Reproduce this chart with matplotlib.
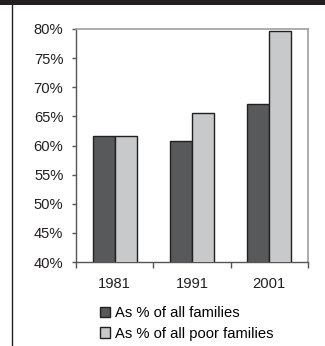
import matplotlib
matplotlib.use("Agg")
import matplotlib.pyplot as plt
from matplotlib.patches import Rectangle
from matplotlib.lines import Line2D
import numpy as np

years = ["1981", "1991", "2001"]
pct_all_families = [61.6, 60.8, 67.1]
pct_poor_families = [61.6, 65.5, 79.7]
series_labels = ["As % of all families", "As % of all poor families"]
y_ticks = [40, 45, 50, 55, 60, 65, 70, 75, 80]

W, H = 325, 346
FS = 10.6
plt.rcParams["font.family"] = ["Liberation Sans", "DejaVu Sans"]
fig = plt.figure(figsize=(W / 100, H / 100), dpi=100)
fig.patch.set_facecolor("white")

# dark header strip and left rule
fig.patches.append(Rectangle((0, 1 - 5 / H), 1, 5 / H, transform=fig.transFigure,
                             facecolor="#231f20", edgecolor="none"))
fig.lines.append(Line2D([11.5 / W, 11.5 / W], [0, 1 - 5 / H], transform=fig.transFigure,
                        color="#231f20", linewidth=1.0))

left, right, top, bottom = 76, 308, 29, 262
ax = fig.add_axes([left / W, 1 - bottom / H, (right - left) / W, (bottom - top) / H])

x = np.arange(len(years))
bw = 0.285
dark = "#58595b"
light = "#c8c9cb"
edge = "#231f20"
ax.bar(x - bw / 2, pct_all_families, width=bw, color=dark, edgecolor=edge, linewidth=1.0,
       label=series_labels[0], zorder=3)
ax.bar(x + bw / 2, pct_poor_families, width=bw, color=light, edgecolor=edge, linewidth=1.0,
       label=series_labels[1], zorder=3)

ax.set_xlim(-0.5, len(years) - 0.5)
ax.set_ylim(40, 80)
ax.set_yticks(y_ticks)
ax.set_yticklabels([f"{v}%" for v in y_ticks], fontsize=FS, color="#231f20")
ax.set_xticks(x)
ax.set_xticklabels(years, fontsize=FS, color="#231f20")
ax.set_xticks(np.arange(-0.5, len(years)), minor=True)
ax.tick_params(axis="x", which="major", length=0, pad=11)
ax.tick_params(axis="x", which="minor", length=4, width=1, color="#555555", direction="out")
ax.tick_params(axis="y", length=3, width=1, color="#555555", direction="out", pad=6)

for side in ("left", "bottom"):
    ax.spines[side].set_color("#555555")
    ax.spines[side].set_linewidth(1.0)
for side in ("top", "right"):
    ax.spines[side].set_color("#a0a0a0")
    ax.spines[side].set_linewidth(1.2)

handles, labels = ax.get_legend_handles_labels()
leg = fig.legend(handles, labels, loc="upper left", bbox_to_anchor=(100 / W, 1 - 306 / H),
                 frameon=False, fontsize=FS, handlelength=0.7, handleheight=0.7,
                 handletextpad=0.3, labelspacing=0.45, borderaxespad=0, borderpad=0)

fig.savefig("out.png", dpi=100)
